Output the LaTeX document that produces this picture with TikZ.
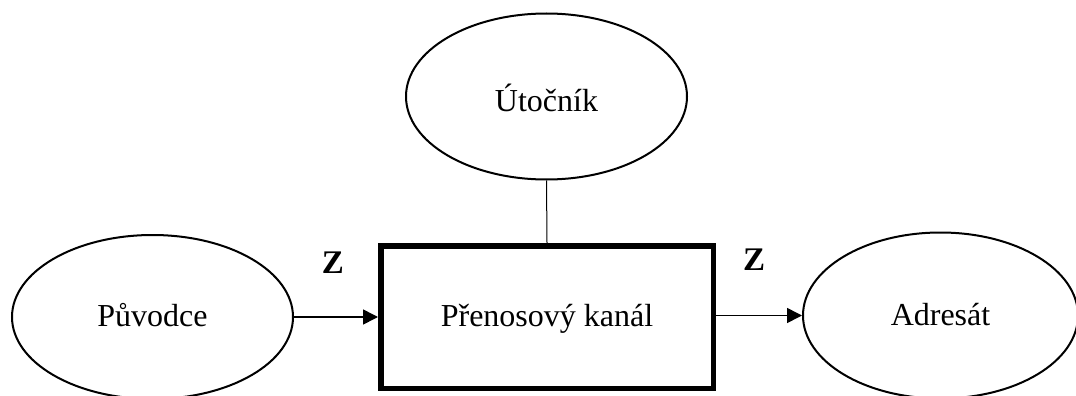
\documentclass[tikz,border=0pt]{standalone}
\usepackage{fontspec}
\setmainfont{Liberation Serif}
\usetikzlibrary{shapes.geometric,arrows.meta}
\begin{document}
\begin{tikzpicture}[x=1pt,y=-1pt,
  ell/.style={draw,ellipse,line width=2pt,inner sep=0pt,text depth=0pt,font=\fontsize{32}{38}\selectfont},
  chan/.style={draw,rectangle,line width=5.5pt,inner sep=0pt,text depth=0pt,font=\fontsize{32}{38}\selectfont},
  flow/.style={line width=1.6pt,-{Triangle[length=15pt,width=15pt]}},
  lbl/.style={font=\fontsize{33}{38}\selectfont\bfseries,inner sep=0pt}]
\useasboundingbox (0,0) rectangle (1076,396);
\node[ell,text height=30pt,minimum width=281pt,minimum height=166pt] (ut) at (546.5,96.5) {Útočník};
\node[ell,text height=18pt,minimum width=281pt,minimum height=164pt] (pu) at (152.5,317) {Původce};
\node[ell,text height=20pt,minimum width=275pt,minimum height=166pt] (ad) at (940.5,315.5) {Adresát};
\node[chan,text height=18pt,minimum width=332.5pt,minimum height=142.5pt] (ch) at (547,317) {Přenosový kanál};
\draw[line width=1pt] (ut.south) -- (ch.north);
\draw[flow] (pu.east) -- (ch.west);
\draw[flow] (ad.west -| ch.east) -- (ad.west);
\node[lbl] (z1) at (333,263) {Z};
\node[lbl] (z2) at (754,260) {Z};
\end{tikzpicture}
\end{document}
